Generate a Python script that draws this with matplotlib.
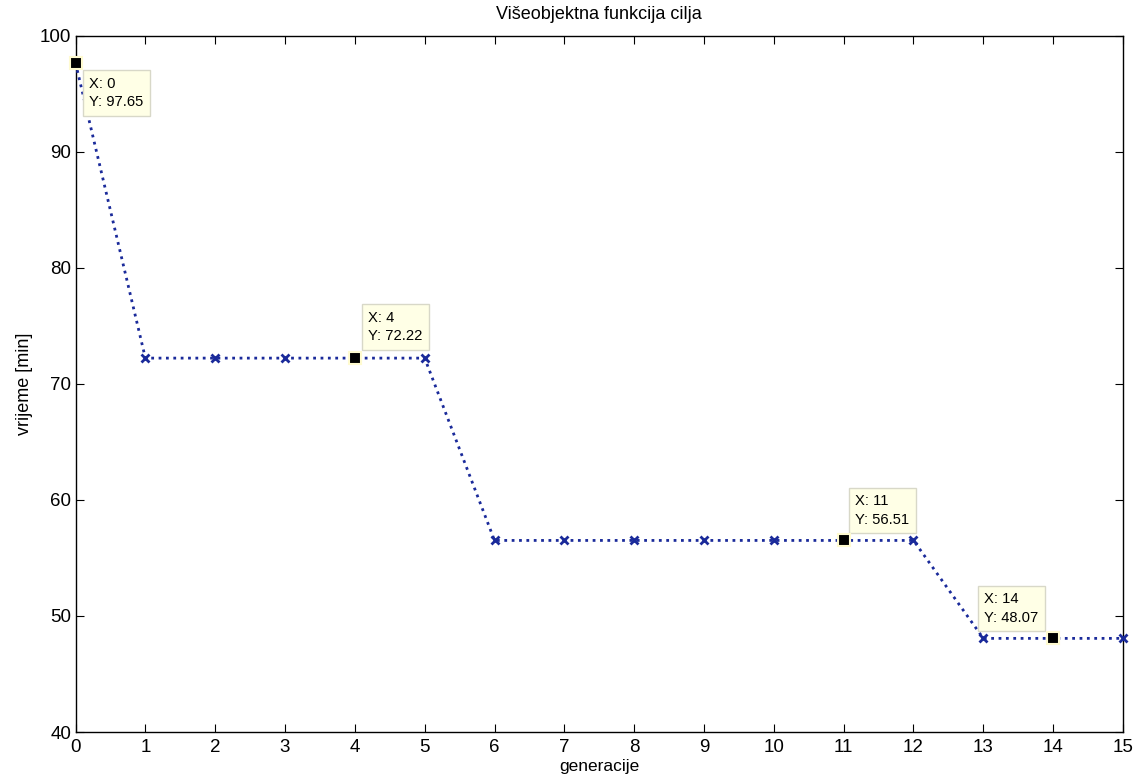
import matplotlib.pyplot as plt
import numpy as np

plt.rcParams['font.family'] = ['Liberation Sans', 'DejaVu Sans']

generacije = np.arange(0, 16)
vrijeme = [97.65, 72.22, 72.22, 72.22, 72.22, 72.22,
           56.51, 56.51, 56.51, 56.51, 56.51, 56.51, 56.51,
           48.07, 48.07, 48.07]

# data tips: index, box corner offset from point in pixels, alignment
tips = [(0, (7, -7), 'left', 'top'),
        (4, (7, 8), 'left', 'bottom'),
        (11, (5, 7), 'left', 'bottom'),
        (14, (-8, 7), 'right', 'bottom')]

tip_fs = 10.6
tip_pad = 0.45  # in units of font size

fig = plt.figure(figsize=(11.41, 7.8), dpi=100)
ax = fig.add_axes([0.0662, 0.0615, 0.918, 0.8927])

ax.plot(generacije, vrijeme, color='#1a2a9a', linestyle=':', linewidth=2,
        marker='x', markersize=6, markeredgewidth=2, clip_on=False, zorder=3)

pad_pt = tip_pad * tip_fs
for i, (dx, dy), ha, va in tips:
    x, y = generacije[i], vrijeme[i]
    ax.plot(x, y, marker='s', markersize=8.5, color='black',
            markeredgecolor='#fffbd0', markeredgewidth=1.5, zorder=7, clip_on=False)
    ox = dx * 0.72 + (pad_pt if dx > 0 else -pad_pt)
    oy = dy * 0.72 + (pad_pt if dy > 0 else -pad_pt)
    ax.annotate(f'X: {x}\nY: {y:.2f}', xy=(x, y), xycoords='data',
                xytext=(ox, oy), textcoords='offset points',
                ha=ha, va=va, multialignment='left', fontsize=tip_fs,
                linespacing=1.4, zorder=6,
                bbox=dict(boxstyle=f'square,pad={tip_pad}', fc='#ffffe6', ec='#d8d8c8', lw=1))

ax.set_xlim(0, 15)
ax.set_ylim(40, 100)
ax.set_xticks(range(0, 16))
ax.set_yticks(range(40, 101, 10))
ax.tick_params(direction='in', top=True, right=True, labelsize=13.5, length=6)
ax.tick_params(axis='x', pad=5)
ax.tick_params(axis='y', pad=3)
for s in ax.spines.values():
    s.set_linewidth(1)

ax.set_title('Višeobjektna funkcija cilja', fontsize=13, pad=12)
ax.set_xlabel('generacije', fontsize=12.5, labelpad=2)
ax.set_ylabel('vrijeme [min]', fontsize=13, labelpad=5)

fig.savefig('out.png', dpi=100)
